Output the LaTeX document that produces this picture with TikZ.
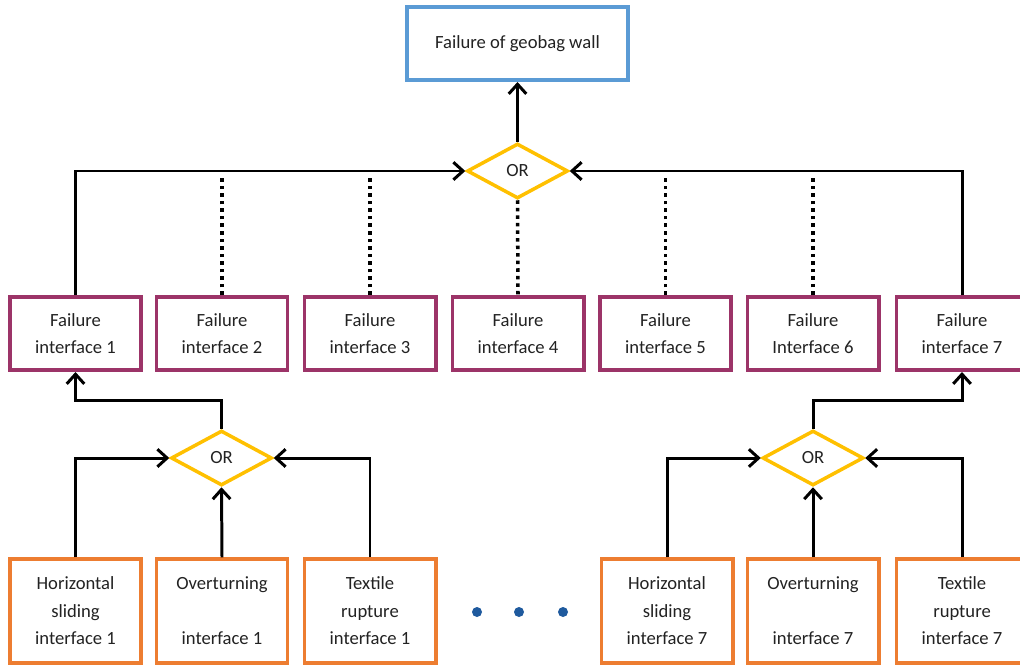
\documentclass[tikz,border=0pt]{standalone}
\usepackage{fontspec}
\setmainfont{Carlito}
\usetikzlibrary{shapes.geometric,arrows.meta}
\definecolor{cblue}{HTML}{5B9BD5}
\definecolor{cplum}{HTML}{9C3468}
\definecolor{corange}{HTML}{ED7D31}
\definecolor{cgold}{HTML}{FFC000}
\definecolor{cdots}{HTML}{1F5A9E}
\definecolor{ctext}{HTML}{222222}
\tikzset{
  lbl/.style={font=\fontsize{10.6}{15.6}\selectfont, text=ctext, align=center, inner sep=0pt},
  topbox/.style={lbl, draw=cblue, line width=2pt, minimum width=4.43cm, minimum height=1.47cm},
  midbox/.style={lbl, draw=cplum, line width=2pt, minimum width=2.63cm, minimum height=1.47cm},
  botbox/.style={lbl, draw=corange, line width=2pt, minimum width=2.63cm, minimum height=2.08cm},
  orgate/.style={lbl, draw=cgold, line width=2pt, diamond, shape aspect=2, minimum width=2.02cm, minimum height=1.10cm},
  conn/.style={draw=black, line width=1.7pt, -{Straight Barb[length=5.5pt,width=10pt]}},
  dotline/.style={draw=black, line width=2pt, dash pattern=on 2pt off 2.3pt},
  bigdot/.style={circle, fill=cdots, inner sep=0pt, minimum size=0.2cm}
}
\begin{document}
\begin{tikzpicture}[x=0.02cm, y=-0.02cm]
\useasboundingbox (0,0) rectangle (1020,666);
% top
\node[topbox] (top) at (517.5,43.5) {Failure of geobag wall};
\node[orgate] (or) at (517.5,171) {OR};
% middle row
\node[midbox] (m1) at (75.5,333.5) {Failure\\interface 1};
\node[midbox] (m2) at (222,333.5) {Failure\\interface 2};
\node[midbox] (m3) at (370,333.5) {Failure\\interface 3};
\node[midbox] (m4) at (518,333.5) {Failure\\interface 4};
\node[midbox] (m5) at (665.5,333.5) {Failure\\interface 5};
\node[midbox] (m6) at (813,333.5) {Failure\\Interface 6};
\node[midbox] (m7) at (962,333.5) {Failure\\interface 7};
% OR gates
\node[orgate] (orL) at (221.5,458) {OR};
\node[orgate] (orR) at (813,458) {OR};
% bottom row
\node[botbox] (b1) at (75.5,611) {Horizontal\\sliding\\interface 1};
\node[botbox] (b2) at (222,611) {Overturning\\\mbox{}\\interface 1};
\node[botbox] (b3) at (370,611) {Textile\\rupture\\interface 1};
\node[botbox] (b5) at (667,611) {Horizontal\\sliding\\interface 7};
\node[botbox] (b6) at (813,611) {Overturning\\\mbox{}\\interface 7};
\node[botbox] (b7) at (962,611) {Textile\\rupture\\interface 7};
% dots
\node[bigdot] (d1) at (477,612) {};
\node[bigdot] (d2) at (519,612) {};
\node[bigdot] (d3) at (563,612) {};
% connectors top
\draw[conn] (or.north) -- (top.south);
\draw[conn] (m1.north) |- (or.west);
\draw[conn] (m7.north) |- (or.east);
\draw[dotline] (m2.north) -- ++(0,-118);
\draw[dotline] (m3.north) -- ++(0,-118);
\draw[dotline] (m5.north) -- ++(0,-118);
\draw[dotline] (m6.north) -- ++(0,-118);
\draw[dotline] (or.south) -- (m4.north);
% left gate
\draw[conn] (orL.north) -- ++(0,-28) -| (m1.south);
\draw[conn] (b1.north) |- (orL.west);
\draw[conn] (b2.north) -- (orL.south);
\draw[conn] (b3.north) |- (orL.east);
% right gate
\draw[conn] (orR.north) -- ++(0,-28) -| (m7.south);
\draw[conn] (b5.north) |- (orR.west);
\draw[conn] (b6.north) -- (orR.south);
\draw[conn] (b7.north) |- (orR.east);
\end{tikzpicture}
\end{document}
